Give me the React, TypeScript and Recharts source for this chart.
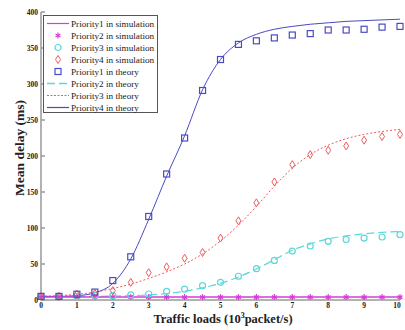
import { ComposedChart, Line, XAxis, YAxis } from 'recharts';

const loads = [0, 0.5, 1, 1.5, 2, 2.5, 3, 3.5, 4, 4.5, 5, 5.5, 6, 6.5, 7, 7.5, 8, 8.5, 9, 9.5, 10];
const p1SimLine = [4, 4, 4, 4, 4, 4, 4, 4, 4, 4, 4, 4, 4, 4, 4, 4, 4, 4, 4, 4, 4];
const p2Sim = [4, 4, 4, 4, 4, 4, 4, 4, 4, 4, 4, 4, 4, 4, 4, 4, 4, 4, 4, 4, 4];
const p3Sim = [5, 5, 5, 6.5, 6, 7, 8.3, 12, 15, 20, 24.5, 33, 43.5, 55, 68, 75, 81.5, 84, 86, 87.5, 90.7];
const p4Sim = [5, 5, 8, 9, 13, 24.5, 38, 46, 58, 66, 86, 110, 135, 164, 188, 202, 208, 214, 222, 227, 230];
const p1Theory = [5, 5, 8, 11, 27, 60, 116, 175, 225, 291, 334, 355, 360, 364, 368, 370, 375, 375, 376, 379, 380];
const p2Theory = [5, 5, 5, 5, 5.5, 6, 7, 9, 12, 17, 23, 32, 43, 56, 69, 78, 85, 89, 92, 94, 95];
const p3Theory = [5, 6, 8, 11, 16, 22, 30, 39, 50, 64, 82, 104, 130, 158, 183, 202, 215, 224, 230, 234, 237];
const p4Theory = [5, 5, 6, 10, 23, 57, 112, 172, 228, 292, 334, 357, 369, 376, 380, 383, 385, 387, 388, 389, 390];

const xTicks = [0, 1, 2, 3, 4, 5, 6, 7, 8, 9, 10];
const yTicks = [0, 50, 100, 150, 200, 250, 300, 350, 400];

const legendNames = [
  'Priority1 in simulation',
  'Priority2 in simulation',
  'Priority3 in simulation',
  'Priority4 in simulation',
  'Priority1 in theory',
  'Priority2 in theory',
  'Priority3 in theory',
  'Priority4 in theory',
];

const MAGENTA = '#d63cd6';
const CYAN = '#5cd8d8';
const RED = '#f25a5a';
const BLUE = '#4a4ac8';
const SERIF = "'Liberation Serif', 'Times New Roman', Times, serif";

const data = loads.map((x, i) => ({
  x,
  p1SimLine: p1SimLine[i],
  p2Sim: p2Sim[i],
  p3Sim: p3Sim[i],
  p4Sim: p4Sim[i],
  p1Theory: p1Theory[i],
  p2Theory: p2Theory[i],
  p3Theory: p3Theory[i],
  p4Theory: p4Theory[i],
}));

function Star({ cx, cy }: any) {
  return (
    <g stroke={MAGENTA} strokeWidth={1.2}>
      <line x1={cx} y1={cy - 3} x2={cx} y2={cy + 3} />
      <line x1={cx - 2.5} y1={cy - 1.5} x2={cx + 2.5} y2={cy + 1.5} />
      <line x1={cx - 2.5} y1={cy + 1.5} x2={cx + 2.5} y2={cy - 1.5} />
    </g>
  );
}

function Ring({ cx, cy }: any) {
  return <circle cx={cx} cy={cy} r={3} fill="none" stroke={CYAN} strokeWidth={1.2} />;
}

function Diamond({ cx, cy }: any) {
  return (
    <path
      d={`M${cx},${cy - 4} L${cx + 2.5},${cy} L${cx},${cy + 4} L${cx - 2.5},${cy} Z`}
      fill="none"
      stroke={RED}
      strokeWidth={1}
    />
  );
}

function Square({ cx, cy }: any) {
  return <rect x={cx - 3} y={cy - 3} width={6} height={6} fill="none" stroke={BLUE} strokeWidth={1.2} />;
}

function LegendBox() {
  const icons = [
    <line x1={0} y1={0} x2={22} y2={0} stroke={MAGENTA} strokeWidth={1.2} />,
    <Star cx={11} cy={0} />,
    <Ring cx={11} cy={0} />,
    <Diamond cx={11} cy={0} />,
    <Square cx={11} cy={0} />,
    <line x1={0} y1={0} x2={22} y2={0} stroke={CYAN} strokeWidth={1.5} strokeDasharray="8 4" />,
    <line x1={0} y1={0} x2={22} y2={0} stroke={RED} strokeWidth={1.2} strokeDasharray="2 1.5" />,
    <line x1={0} y1={0} x2={22} y2={0} stroke={BLUE} strokeWidth={1.2} />,
  ];
  return (
    <svg width={116} height={99} style={{ position: 'absolute', left: 43, top: 15 }}>
      <rect x={0.5} y={0.5} width={114} height={97} fill="#fff" stroke="#555" strokeWidth={1} />
      {legendNames.map((name, i) => (
        <g key={name} transform={`translate(0, ${8.5 + i * 12})`}>
          <g transform="translate(4, 0)">{icons[i]}</g>
          <text x={28} y={3.2} fontSize={9.2} fontFamily={SERIF} fill="#222">
            {name}
          </text>
        </g>
      ))}
    </svg>
  );
}

function XTick({ x, y, payload }: any) {
  return (
    <text x={x} y={y + 6} textAnchor="middle" fontSize={7.5} fontWeight="bold" fontFamily={SERIF} fill="#222">
      {payload.value}
    </text>
  );
}

function YTick({ x, y, payload }: any) {
  return (
    <text x={x} y={y + 2.5} textAnchor="end" fontSize={7.5} fontWeight="bold" fontFamily={SERIF} fill="#222">
      {payload.value}
    </text>
  );
}

export default function App() {
  return (
    <div style={{ position: 'absolute', left: 0, top: 0, width: 405, height: 330, background: '#fff' }}>
      <ComposedChart width={405} height={330} data={data} margin={{ top: 12, right: 5, bottom: 0, left: 0 }}>
        <XAxis
          xAxisId="b"
          dataKey="x"
          type="number"
          domain={[0, 10]}
          ticks={xTicks}
          height={30}
          stroke="#999"
          strokeWidth={1.5}
          tickSize={-4}
          tickMargin={6}
          tick={<XTick />}
        />
        <XAxis
          xAxisId="t"
          dataKey="x"
          type="number"
          orientation="top"
          domain={[0, 10]}
          ticks={xTicks}
          height={0}
          stroke="#777"
          tickSize={-4}
          tick={false}
        />
        <YAxis
          yAxisId="l"
          type="number"
          domain={[0, 400]}
          ticks={yTicks}
          width={41}
          stroke="#999"
          strokeWidth={1.5}
          tickSize={-4}
          tickMargin={7}
          tick={<YTick />}
        />
        <YAxis
          yAxisId="r"
          type="number"
          orientation="right"
          domain={[0, 400]}
          ticks={yTicks}
          width={0}
          stroke="#777"
          tickSize={-4}
          tick={false}
        />
        <Line xAxisId="b" yAxisId="l" dataKey="p2Theory" type="monotone" stroke={CYAN} strokeWidth={1.2} strokeDasharray="8 4" dot={false} isAnimationActive={false} />
        <Line xAxisId="b" yAxisId="l" dataKey="p3Theory" type="monotone" stroke={RED} strokeWidth={1} strokeDasharray="2 2" dot={false} isAnimationActive={false} />
        <Line xAxisId="b" yAxisId="l" dataKey="p4Theory" type="monotone" stroke={BLUE} strokeWidth={1} dot={false} isAnimationActive={false} />
        <Line xAxisId="b" yAxisId="l" dataKey="p1SimLine" type="linear" stroke={MAGENTA} strokeWidth={1.5} dot={false} isAnimationActive={false} />
        <Line xAxisId="b" yAxisId="l" dataKey="p2Sim" stroke="none" dot={(p: any) => <Star key={`s${p.index}`} cx={p.cx} cy={p.cy} />} isAnimationActive={false} />
        <Line xAxisId="b" yAxisId="l" dataKey="p3Sim" stroke="none" dot={(p: any) => <Ring key={`r${p.index}`} cx={p.cx} cy={p.cy} />} isAnimationActive={false} />
        <Line xAxisId="b" yAxisId="l" dataKey="p4Sim" stroke="none" dot={(p: any) => <Diamond key={`d${p.index}`} cx={p.cx} cy={p.cy} />} isAnimationActive={false} />
        <Line xAxisId="b" yAxisId="l" dataKey="p1Theory" stroke="none" dot={(p: any) => <Square key={`q${p.index}`} cx={p.cx} cy={p.cy} />} isAnimationActive={false} />
        <text x={24} y={148} transform="rotate(-90 24 148)" textAnchor="middle" fontSize={13.5} fontWeight="bold" fontFamily={SERIF} fill="#222">
          Mean delay (ms)
        </text>
        <text x={223} y={323} textAnchor="middle" fontSize={12.5} fontWeight="bold" fontFamily={SERIF} fill="#222">
          Traffic loads (10<tspan dy={-5} fontSize={8}>3</tspan><tspan dy={5}>packet/s)</tspan>
        </text>
      </ComposedChart>
      <LegendBox />
    </div>
  );
}
